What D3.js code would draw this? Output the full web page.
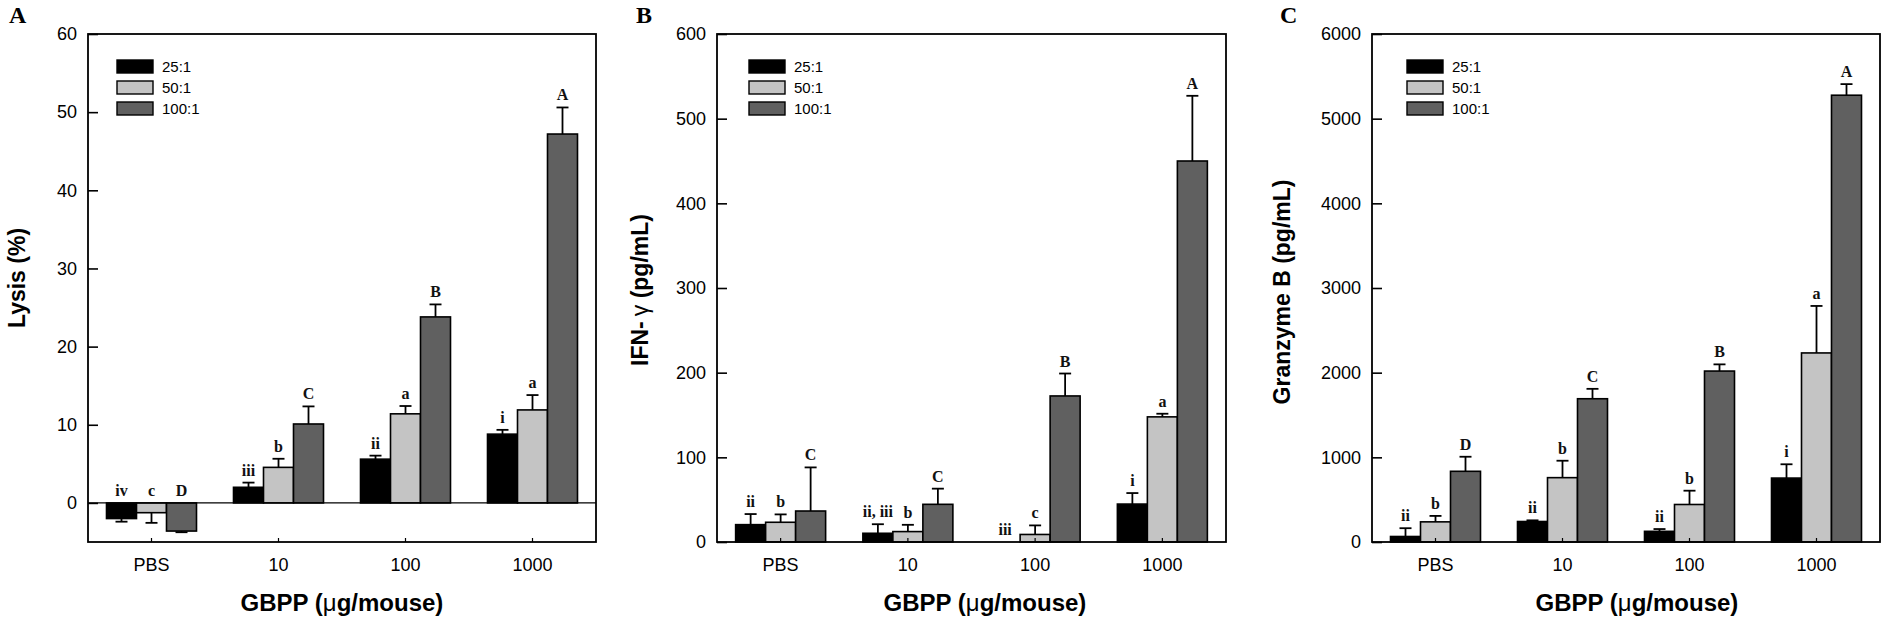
<!DOCTYPE html>
<html>
<head>
<meta charset="utf-8">
<script src="https://cdn.jsdelivr.net/npm/d3@7"></script>
<style>
  html, body { margin: 0; padding: 0; background: #fff; }
  svg { display: block; font-family: "Liberation Sans", Arial, sans-serif; }
</style>
</head>
<body>
<svg id="chart" width="1882" height="619"></svg>
<script>
'use strict';

// categories and series
const categories = ['PBS', '10', '100', '1000'];
const seriesNames = ['25:1', '50:1', '100:1'];
const seriesColors = ['#000000', '#c4c4c4', '#606060'];

// panel A: lysis (%)
const lysis25 = [-2.0, 2.0, 5.6, 8.8];
const lysis25Err = [0.4, 0.6, 0.45, 0.55];
const lysis50 = [-1.25, 4.55, 11.4, 11.9];
const lysis50Err = [1.3, 1.1, 1.0, 1.9];
const lysis100 = [-3.6, 10.1, 23.8, 47.2];
const lysis100Err = [0.15, 2.25, 1.6, 3.4];
const lysisLetters = [['iv', 'c', 'D'], ['iii', 'b', 'C'], ['ii', 'a', 'B'], ['i', 'a', 'A']];
const lysisTicks = [0, 10, 20, 30, 40, 50, 60];

// panel B: IFN-gamma (pg/mL)
const ifn25 = [20.5, 10.3, 0, 44.8];
const ifn25Err = [12.5, 10.7, 0, 13];
const ifn50 = [23.3, 12.3, 8.9, 147.8];
const ifn50Err = [9.3, 8.0, 10.7, 3.7];
const ifn100 = [36.6, 44.5, 172.5, 450];
const ifn100Err = [51.5, 18.5, 26.5, 77];
const ifnLetters = [['ii', 'b', 'C'], ['ii, iii', 'b', 'C'], ['iii', 'c', 'B'], ['i', 'a', 'A']];
const ifnTicks = [0, 100, 200, 300, 400, 500, 600];

// panel C: granzyme B (pg/mL)
const gzm25 = [65, 242, 126, 755];
const gzm25Err = [98, 14, 27, 163];
const gzm50 = [238, 760, 443, 2233];
const gzm50Err = [70, 200, 163, 555];
const gzm100 = [835, 1692, 2019, 5277];
const gzm100Err = [172, 117, 79, 131];
const gzmLetters = [['ii', 'b', 'D'], ['ii', 'b', 'C'], ['ii', 'b', 'B'], ['i', 'a', 'A']];
const gzmTicks = [0, 1000, 2000, 3000, 4000, 5000, 6000];

const panels = [
  {
    tag: 'A', left: 88, right: 596, domain: [-5, 60], ticks: lysisTicks,
    values: [lysis25, lysis50, lysis100], errors: [lysis25Err, lysis50Err, lysis100Err],
    letters: lysisLetters, title: ['Lysis (%)'], titleX: 25, titleY: 278,
    xTitleX: 342, tagX: 9, legendDx: 29
  },
  {
    tag: 'B', left: 717, right: 1226, domain: [0, 600], ticks: ifnTicks,
    values: [ifn25, ifn50, ifn100], errors: [ifn25Err, ifn50Err, ifn100Err],
    letters: ifnLetters, title: ['IFN-', '\u03b3', ' (pg/mL)'], titleX: 648, titleY: 290,
    xTitleX: 985, tagX: 636, legendDx: 32
  },
  {
    tag: 'C', left: 1372, right: 1880, domain: [0, 6000], ticks: gzmTicks,
    values: [gzm25, gzm50, gzm100], errors: [gzm25Err, gzm50Err, gzm100Err],
    letters: gzmLetters, title: ['Granzyme B (pg/mL)'], titleX: 1290, titleY: 292,
    xTitleX: 1637, tagX: 1280, legendDx: 35
  }
];

const plotTop = 34;
const plotBottom = 542;
const barW = 30;

const svg = d3.select('#chart');
svg.append('rect').attr('width', 1882).attr('height', 619).attr('fill', '#fff');

panels.forEach(p => {
  const g = svg.append('g');

  const x = d3.scaleBand().domain(categories).range([p.left, p.right]);
  const sub = d3.scaleBand().domain(seriesNames)
    .range([x.bandwidth() / 2 - 1.5 * barW, x.bandwidth() / 2 + 1.5 * barW]);
  const y = d3.scaleLinear().domain(p.domain).range([plotBottom, plotTop]);

  // bars
  seriesNames.forEach((s, si) => {
    const rows = categories.map((c, ci) => ({ c, ci, v: p.values[si][ci], e: p.errors[si][ci] }));
    g.append('g').selectAll('rect')
      .data(rows.filter(d => d.v !== 0))
      .enter().append('rect')
      .attr('x', d => x(d.c) + sub(s))
      .attr('width', sub.bandwidth())
      .attr('y', d => y(Math.max(d.v, 0)))
      .attr('height', d => Math.abs(y(d.v) - y(0)))
      .attr('fill', seriesColors[si])
      .attr('stroke', '#000')
      .attr('stroke-width', 1.6);

    // error bars (away from zero)
    const eb = g.append('g').attr('stroke', '#000').attr('stroke-width', 1.8);
    rows.filter(d => d.e > 0).forEach(d => {
      const cx = x(d.c) + sub(s) + sub.bandwidth() / 2;
      const end = d.v >= 0 ? d.v + d.e : d.v - d.e;
      eb.append('line').attr('x1', cx).attr('x2', cx).attr('y1', y(d.v)).attr('y2', y(end));
      eb.append('line').attr('x1', cx - 6).attr('x2', cx + 6).attr('y1', y(end)).attr('y2', y(end));
    });

    // significance letters
    g.append('g').selectAll('text')
      .data(rows)
      .enter().append('text')
      .attr('x', d => x(d.c) + sub(s) + sub.bandwidth() / 2)
      .attr('y', d => (d.v > 0 ? y(d.v + d.e) : y(0)) - 7)
      .attr('text-anchor', 'middle')
      .style('font-family', '"Liberation Serif", "Times New Roman", serif')
      .style('font-weight', 'bold')
      .style('font-size', '16px')
      .attr('fill', '#111')
      .text(d => p.letters[d.ci][si]);
  });

  // zero line for panel with negative values
  if (p.domain[0] < 0) {
    g.append('line')
      .attr('x1', p.left).attr('x2', p.right)
      .attr('y1', y(0)).attr('y2', y(0))
      .attr('stroke', '#000').attr('stroke-width', 1.4);
  }

  // frame
  g.append('rect')
    .attr('x', p.left).attr('y', plotTop)
    .attr('width', p.right - p.left).attr('height', plotBottom - plotTop)
    .attr('fill', 'none').attr('stroke', '#000').attr('stroke-width', 1.8);

  // y axis, ticks inward
  const yAxis = g.append('g')
    .attr('transform', `translate(${p.left},0)`)
    .call(d3.axisLeft(y).tickValues(p.ticks).tickFormat(d3.format('d'))
      .tickSizeInner(-10).tickSizeOuter(0).tickPadding(11));
  yAxis.select('.domain').remove();
  yAxis.selectAll('line').attr('stroke', '#000').attr('stroke-width', 1.6);
  yAxis.selectAll('text').style('font-size', '18px').style('font-family', '"Liberation Sans", Arial, sans-serif').attr('fill', '#000');

  // x axis, short inward ticks
  const xAxis = g.append('g')
    .attr('transform', `translate(0,${plotBottom})`)
    .call(d3.axisBottom(x).tickSizeInner(-4).tickSizeOuter(0).tickPadding(16));
  xAxis.select('.domain').remove();
  xAxis.selectAll('line').attr('stroke', '#000').attr('stroke-width', 1.2);
  xAxis.selectAll('text').style('font-size', '18px').style('font-family', '"Liberation Sans", Arial, sans-serif').attr('fill', '#000');

  // legend
  const lg = g.append('g').attr('transform', `translate(${p.left + p.legendDx},${plotTop + 26})`);
  seriesNames.forEach((s, si) => {
    lg.append('rect')
      .attr('x', 0).attr('y', si * 21)
      .attr('width', 36).attr('height', 13)
      .attr('fill', seriesColors[si]).attr('stroke', '#000').attr('stroke-width', 1.4);
    lg.append('text')
      .attr('x', 45).attr('y', si * 21 + 12)
      .style('font-size', '15px')
      .text(s);
  });

  // y title
  const yt = g.append('text')
    .attr('transform', `translate(${p.titleX},${p.titleY}) rotate(-90)`)
    .attr('text-anchor', 'middle')
    .style('font-size', '23px')
    .style('font-weight', 'bold');
  p.title.forEach(part => {
    const ts = yt.append('tspan')
      .style('font-weight', part === '\u03b3' ? 'normal' : 'bold')
      .text(part);
    if (part === '\u03b3') ts.attr('dx', 5);
  });

  // x title
  const xt = g.append('text')
    .attr('x', p.xTitleX).attr('y', 611)
    .attr('text-anchor', 'middle')
    .style('font-size', '24px')
    .style('font-weight', 'bold');
  xt.append('tspan').text('GBPP (');
  xt.append('tspan').style('font-weight', 'normal').text('\u03bc');
  xt.append('tspan').text('g/mouse)');

  // panel tag
  g.append('text')
    .attr('x', p.tagX).attr('y', 23)
    .style('font-family', '"Liberation Serif", "Times New Roman", serif')
    .style('font-weight', 'bold')
    .style('font-size', '24px')
    .text(p.tag);
});
</script>
</body>
</html>
